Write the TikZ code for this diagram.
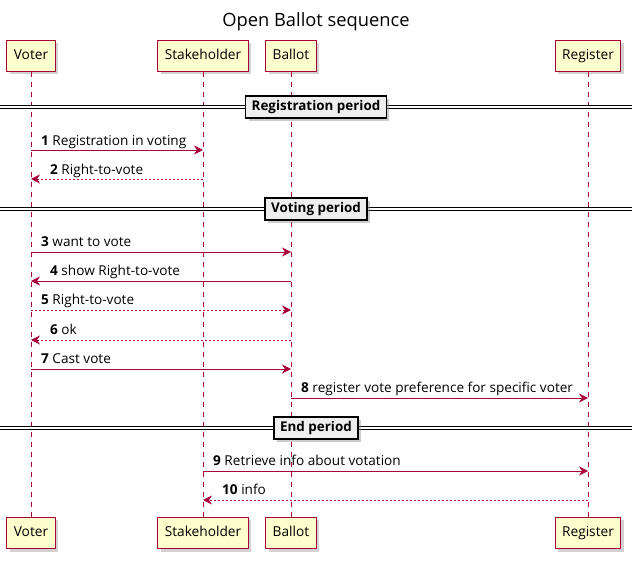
\documentclass[tikz,border=0pt]{standalone}
\usepackage{fontspec}
\setmainfont{Open Sans}
\usetikzlibrary{arrows.meta,shadows}
\definecolor{umlred}{HTML}{A80036}
\definecolor{umlbox}{HTML}{FEFECE}
\definecolor{divbox}{HTML}{EEEEEE}
\begin{document}
\begin{tikzpicture}[x=1pt,y=-1pt,
    actor/.style={draw=umlred,fill=umlbox,line width=0.9pt,minimum height=31pt,inner xsep=7pt,
        text height=10pt,text depth=3pt,
        font=\fontsize{13.7}{16}\selectfont,drop shadow={shadow xshift=3pt,shadow yshift=-3pt,fill=black!35}},
    life/.style={draw=umlred,dash pattern=on 5pt off 5pt,line width=0.7pt},
    msg/.style={draw=umlred,line width=0.8pt,-{Stealth[length=9pt,width=9pt,inset=3pt]}},
    reply/.style={msg,dash pattern=on 2pt off 2pt},
    lbl/.style={font=\fontsize{13.6}{16}\selectfont,inner sep=0pt,anchor=base west},
    sep/.style={draw=black,double=white,double distance=1.6pt,line width=0.8pt},
    sepbox/.style={draw=black,fill=divbox,line width=1.4pt,font=\bfseries\fontsize{13.4}{15}\selectfont,
        text height=10pt,text depth=3pt,
        inner xsep=6pt,minimum height=22pt,drop shadow={shadow xshift=3pt,shadow yshift=-3pt,fill=black!40}}]
    \useasboundingbox (0,0) rectangle (638,561);
    \node[font=\fontsize{18.3}{22}\selectfont] (title) at (316,22) {Open Ballot sequence};

    \node[actor] (voterT) at (31,56) {Voter};
    \node[actor] (stakeT) at (203,56) {Stakeholder};
    \node[actor] (ballotT) at (291,56) {Ballot};
    \node[actor] (regT) at (588,56) {Register};
    \node[actor] (voterB) at (31,533) {Voter};
    \node[actor] (stakeB) at (203,533) {Stakeholder};
    \node[actor] (ballotB) at (291,533) {Ballot};
    \node[actor] (regB) at (588,533) {Register};

    \draw[life] (voterT) -- (voterB);
    \draw[life] (stakeT) -- (stakeB);
    \draw[life] (ballotT) -- (ballotB);
    \draw[life] (regT) -- (regB);

    \draw[sep] (0,107) -- (632,107);
    \node[sepbox] (regper) at (316,107) {Registration period};
    \draw[sep] (0,209) -- (632,209);
    \node[sepbox] (votper) at (316,209) {Voting period};
    \draw[sep] (0,428) -- (632,428);
    \node[sepbox] (endper) at (316,428) {End period};

    \draw[msg] (voterT |- 0,150) -- (stakeT |- 0,150);
    \node[lbl] (m1) at (41,146) {\textbf{1} Registration in voting};
    \draw[reply] (stakeT |- 0,179) -- (voterT |- 0,179);
    \node[lbl] (m2) at (50,175) {\textbf{2} Right-to-vote};

    \draw[msg] (voterT |- 0,252) -- (ballotT |- 0,252);
    \node[lbl] (m3) at (41,247) {\textbf{3} want to vote};
    \draw[msg] (ballotT |- 0,281) -- (voterT |- 0,281);
    \node[lbl] (m4) at (50,276) {\textbf{4} show Right-to-vote};
    \draw[reply] (voterT |- 0,310) -- (ballotT |- 0,310);
    \node[lbl] (m5) at (41,305) {\textbf{5} Right-to-vote};
    \draw[reply] (ballotT |- 0,340) -- (voterT |- 0,340);
    \node[lbl] (m6) at (50,335) {\textbf{6} ok};
    \draw[msg] (voterT |- 0,369) -- (ballotT |- 0,369);
    \node[lbl] (m7) at (41,364) {\textbf{7} Cast vote};
    \draw[msg] (ballotT |- 0,398) -- (regT |- 0,398);
    \node[lbl] (m8) at (301,393) {\textbf{8} register vote preference for specific voter};

    \draw[msg] (stakeT |- 0,471) -- (regT |- 0,471);
    \node[lbl] (m9) at (213,466) {\textbf{9} Retrieve info about votation};
    \draw[reply] (regT |- 0,500) -- (stakeT |- 0,500);
    \node[lbl] (m10) at (222,495) {\textbf{10} info};
\end{tikzpicture}
\end{document}
